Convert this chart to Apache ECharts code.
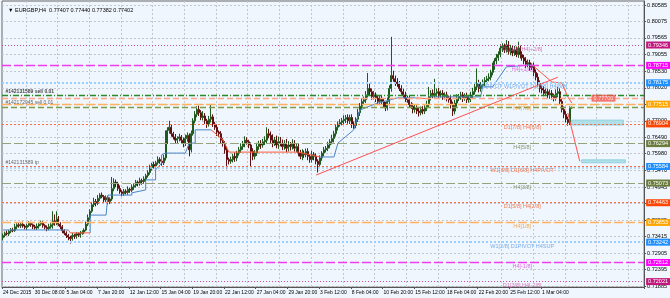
<!DOCTYPE html>
<html><head><meta charset="utf-8">
<script src="https://cdn.jsdelivr.net/npm/echarts@6/dist/echarts.min.js"></script>
<style>html,body{margin:0;padding:0;background:#f0f6fd;}#c{width:670px;height:298px;}</style>
</head><body><div id="c"></div>
<script>
// ---------- data ----------
const slotCount = 324;
const tickLabels = ['24 Dec 2015','30 Dec 08:00','5 Jan 04:00','7 Jan 20:00','12 Jan 12:00','15 Jan 04:00','19 Jan 20:00','22 Jan 12:00','27 Jan 04:00','29 Jan 20:00','3 Feb 12:00','8 Feb 04:00','10 Feb 20:00','15 Feb 12:00','18 Feb 04:00','22 Feb 20:00','25 Feb 12:00','1 Mar 04:00'];
const yTicks = [0.80585,0.80075,0.79565,0.79055,0.78530,0.78020,0.77510,0.77000,0.76490,0.75980,0.75470,0.74945,0.74435,0.73925,0.73415,0.72905,0.72395,0.71885];
// prices in pips (x 1e-4)
const opens = [
7338,7345,7352,7350,7358,7362,7360,7372,7378,7375,7380,7374,7370,7376,7382,7378,
7372,7368,7374,7380,7384,7376,7370,7366,7372,7378,7390,7385,7395,7380,7372,7360,
7352,7345,7340,7335,7345,7342,7350,7346,7352,7355,7362,7380,7400,7420,7440,7450,
7445,7460,7470,7465,7455,7462,7450,7458,7490,7510,7505,7490,7480,7475,7482,7478,
7488,7485,7495,7500,7510,7505,7515,7512,7520,7530,7540,7555,7565,7560,7570,7580,
7575,7570,7585,7640,7670,7680,7660,7650,7640,7645,7650,7640,7630,7645,7655,7610,
7660,7700,7720,7735,7725,7710,7715,7700,7690,7705,7712,7690,7680,7665,7660,7640,
7630,7610,7580,7575,7580,7590,7585,7600,7610,7620,7630,7640,7635,7625,7605,7590,
7600,7620,7630,7625,7635,7640,7660,7655,7640,7630,7640,7625,7635,7630,7620,7630,
7615,7625,7620,7630,7615,7620,7600,7590,7600,7595,7605,7590,7580,7595,7590,7575,
7565,7585,7600,7610,7615,7625,7635,7645,7660,7680,7690,7695,7700,7705,7710,7700,
7710,7690,7685,7705,7725,7745,7760,7765,7780,7800,7790,7775,7780,7770,7760,7770,
7760,7750,7740,7760,7800,7840,7830,7820,7815,7800,7790,7780,7770,7765,7750,7745,
7735,7740,7730,7725,7735,7730,7740,7750,7775,7785,7780,7785,7790,7780,7785,7775,
7780,7770,7765,7750,7730,7755,7770,7775,7780,7770,7775,7765,7770,7780,7790,7805,
7815,7800,7810,7820,7825,7830,7835,7850,7870,7885,7895,7905,7925,7930,7920,7935,
7915,7925,7910,7920,7905,7925,7905,7895,7885,7875,7880,7865,7870,7850,7835,7815,
7800,7795,7785,7790,7780,7785,7775,7770,7785,7790,7760,7735,7720,7705,7695,7740.7];
const closes = [
7345,7352,7350,7358,7362,7360,7372,7378,7375,7380,7374,7370,7376,7382,7378,7372,
7368,7374,7380,7384,7376,7370,7366,7372,7378,7390,7385,7395,7380,7372,7360,7352,
7345,7340,7335,7345,7342,7350,7346,7352,7355,7362,7380,7400,7420,7440,7450,7445,
7460,7470,7465,7455,7462,7450,7458,7490,7510,7505,7490,7480,7475,7482,7478,7488,
7485,7495,7500,7510,7505,7515,7512,7520,7530,7540,7555,7565,7560,7570,7580,7575,
7570,7585,7640,7670,7680,7660,7650,7640,7645,7650,7640,7630,7645,7655,7610,7660,
7700,7720,7735,7725,7710,7715,7700,7690,7705,7712,7690,7680,7665,7660,7640,7630,
7610,7580,7575,7580,7590,7585,7600,7610,7620,7630,7640,7635,7625,7605,7590,7600,
7620,7630,7625,7635,7640,7660,7655,7640,7630,7640,7625,7635,7630,7620,7630,7615,
7625,7620,7630,7615,7620,7600,7590,7600,7595,7605,7590,7580,7595,7590,7575,7565,
7585,7600,7610,7615,7625,7635,7645,7660,7680,7690,7695,7700,7705,7710,7700,7710,
7690,7685,7705,7725,7745,7760,7765,7780,7800,7790,7775,7780,7770,7760,7770,7760,
7750,7740,7760,7800,7840,7830,7820,7815,7800,7790,7780,7770,7765,7750,7745,7735,
7740,7730,7725,7735,7730,7740,7750,7775,7785,7780,7785,7790,7780,7785,7775,7780,
7770,7765,7750,7730,7755,7770,7775,7780,7770,7775,7765,7770,7780,7790,7805,7815,
7800,7810,7820,7825,7830,7835,7850,7870,7885,7895,7905,7925,7930,7920,7935,7915,
7925,7910,7920,7905,7925,7905,7895,7885,7875,7880,7865,7870,7850,7835,7815,7800,
7795,7785,7790,7780,7785,7775,7770,7785,7790,7760,7735,7720,7705,7695,7740.7,7740.2];
const upWick = [
6,5,8,4,6,7,9,5,6,4,8,5,6,7,5,4, 6,8,5,7,5,4,6,9,8,30,20,25,10,6,5,4,
6,5,4,8,5,6,4,7,6,5,8,10,6,9,12,8, 10,6,8,5,7,6,5,36,12,8,6,10,5,7,6,9,
5,8,6,7,5,9,6,8,6,7,9,5,8,6,10,7, 6,9,30,10,20,8,6,9,7,10,6,8,12,9,6,10,
8,10,10,12,8,15,9,6,10,37,8,6,9,5,8,6, 7,10,6,9,8,12,7,9,10,8,12,9,6,8,10,9,
12,8,10,9,12,20,15,12,18,10,14,16,15,12,10,14, 12,9,13,10,8,9,10,12,8,9,10,7,12,8,9,6,
8,6,9,7,10,8,12,9,10,8,10,9,12,8,10,9, 10,8,6,12,10,9,10,12,48,15,10,12,8,10,9,8,
10,8,12,10,120,15,10,12,8,10,9,10,8,12,8,9, 10,8,12,9,10,8,12,30,10,12,45,10,12,9,10,8,
10,8,12,9,10,12,8,10,9,10,12,8,10,12,10,47, 12,10,8,10,9,12,8,10,9,12,10,12,10,9,15,12,
10,9,12,10,20,8,10,9,12,10,9,8,10,9,12,10, 9,12,10,8,12,10,9,12,15,10,8,9,10,8,4,3.3];
const lowWick = [
8,6,5,7,6,5,4,8,6,7,5,6,8,5,6,7, 5,6,8,5,7,6,8,5,6,12,10,8,6,7,8,6,
8,10,15,6,8,7,6,8,5,6,4,6,8,5,7,10, 6,8,5,10,7,9,8,6,8,10,7,6,9,8,6,7,
8,6,9,7,8,6,10,7,8,6,7,9,8,10,6,8, 9,7,8,12,10,9,8,10,12,9,10,12,8,10,20,8,
6,8,9,10,8,9,10,12,8,10,9,8,12,10,9,10, 12,30,10,8,9,12,10,8,9,10,12,9,10,48,12,10,
9,10,12,8,10,12,9,10,12,8,10,12,9,11,10,12, 10,12,9,10,12,10,9,12,10,8,12,10,9,12,10,25,
8,9,10,8,9,10,8,12,9,10,8,9,10,12,9,10, 12,10,8,9,10,8,9,10,8,12,10,9,12,10,8,10,
9,10,8,12,10,9,12,10,8,9,10,12,9,10,8,12, 10,9,12,8,10,9,10,8,12,10,9,12,10,8,10,9,
10,9,12,15,10,12,9,10,12,8,10,9,12,10,9,10, 12,10,9,12,10,8,10,9,12,10,9,8,12,10,9,10,
12,10,9,8,10,12,9,10,12,9,10,8,12,10,9,12, 10,9,8,10,12,9,10,8,12,10,9,12,10,10,8,2.5];
// trend-stop line vertices [bar, pips]
const stBlue = [
 [[0,7362],[33,7362]],
 [[44,7353],[44,7408],[52,7408],[53,7470],[65,7470],[65,7477],[72,7486],[72,7517],[77,7517],[77,7548],[80,7569],[80,7594],[82,7600],[92,7600],[94,7631],[97,7631],[97,7672],[105,7672]],
 [[160,7588],[167,7588],[169,7631],[177,7672],[179,7712],[180,7733],[184,7743],[189,7755],[195,7764],[199,7771],[208,7771]],
 [[215,7774],[241,7774],[242,7805],[247,7805],[254,7867],[267,7873]]
];
const stRed = [
 [[33,7362],[34,7353],[44,7353]],
 [[105,7672],[111,7641],[114,7603],[149,7603],[160,7588]],
 [[208,7771],[215,7768]],
 [[267,7873],[277,7820],[282,7817],[285,7774],[287,7755]]
];
const trendLine = [[158,0.7532],[280,0.7835]];
const projLine = [[285,0.7724],[291,0.7575]];
const zones = [[287,0.7702,313,0.7687],[292,0.7579,314,0.7570]];
// level lines
const levelPrices = [0.79346,0.78715,0.78175,0.77515,0.76904,0.76294,0.75584,0.75073,0.74463,0.73853,0.73242,0.72612,0.72021];
const levelKinds  = ['vio','mag','blu','org','red','olv','red','olv','red','org','blu','mag','vio'];
const levelNames  = ['D1[1/8] H4[+2/8]','H4[+1/8]','MNPIVOT W1PIVOT D1[8/8] H4[8/8]','H4[7/8]','D1[7/8] H4[6/8]','H4[5/8]','W1[3/8] D1[6/8] H4PIVOT','H4[3/8]','D1[5/8] H4[2/8]','H4[1/8]','W1[2/8] D1PIVOT H4SUP','H4[-1/8]','D1[3/8] H4[-2/8]'];
const levelBoxes  = ['#c2187e','#ff00ff','#1e90ff','#ffa500','#ff4500','#6b7d3c','#1e90ff','#6b7d3c','#ff4500','#ffa500','#1e90ff','#ff00ff','#c2187e'];
const tradePrices = [0.7778,0.7770,0.7743];
const tradeNames = ['#142131589 sell 0.01','','#142172045 sell 0.01'];
const tpPrice = 0.75584, tpName = '#142131589 tp';
const bidPrice = 0.77402;
const title = '\u25BC EURGBP,H4  0.77407 0.77440 0.77382 0.77402';

// ---------- build ----------
const FONT = 'Liberation Sans';
const cats = [];
for (let i = 0; i < slotCount; i++) cats.push(i % 16 === 0 && i / 16 < tickLabels.length ? tickLabels[i / 16] : '');
const candles = closes.map((c, i) => {
  const o = opens[i];
  return [o / 1e4, c / 1e4, (Math.min(o, c) - lowWick[i]) / 1e4, (Math.max(o, c) + upWick[i]) / 1e4];
});
const kindStyle = {
  vio: {color: '#d04aa0', type: [1, 2], width: 1, text: '#c85aa8'},
  mag: {color: '#f03cf0', type: [9, 3], width: 1.3, text: '#d848d8'},
  blu: {color: '#9ccffa', type: [2, 2], width: 2, text: '#5a9ae6'},
  org: {color: '#ffb060', type: [9, 3], width: 1.3, text: '#e89530'},
  red: {color: '#ff6a40', type: [2, 2], width: 1, text: '#f05a2a'},
  olv: {color: '#95a27a', type: [9, 3], width: 1.2, text: '#6f7e50'}
};
const boxLabel = (txt, bg) => ({show: true, position: 'end', distance: 2, formatter: txt, backgroundColor: bg,
  color: '#fff', fontSize: 5.5, fontFamily: FONT, padding: [1, 2, 0, 2]});
const mlData = [];
mlData.push({yAxis: 0.75560, lineStyle: {color: '#9ccffa', type: [2, 2], width: 1.5}, label: {show: false}});
mlData.push({yAxis: tradePrices[0], lineStyle: {color: '#2a8a2a', type: [6, 2, 1, 2], width: 1.3}, label: {show: false}});
mlData.push({yAxis: tradePrices[1], lineStyle: {color: '#ffa585', type: [6, 3], width: 1.3}, label: {show: false}});
mlData.push({yAxis: tradePrices[2], lineStyle: {color: '#7c9c4c', type: [6, 3], width: 1.3}, label: {show: false}});
levelPrices.forEach((p, i) => {
  const k = kindStyle[levelKinds[i]];
  mlData.push({yAxis: p, lineStyle: {color: k.color, type: k.type, width: k.width, opacity: 1}, label: boxLabel(p.toFixed(5), levelBoxes[i])});
});
mlData.push({yAxis: bidPrice, lineStyle: {opacity: 0}, label: boxLabel(bidPrice.toFixed(5), '#000')});

const series = [];
series.push({type: 'line', data: [], z: 1, silent: true,
  markLine: {symbol: ['none', 'none'], silent: true, animation: false, precision: 6, data: mlData},
  markArea: {silent: true, itemStyle: {color: 'rgba(170,222,230,0.9)', borderColor: '#8fd0dc', borderWidth: 1},
    data: zones.map(z => [{coord: [z[0], z[1]]}, {coord: [z[2], z[3]]}])}
});
series.push({type: 'candlestick', data: candles, z: 3, barWidth: 1.5,
  itemStyle: {color: '#2f8f2f', color0: '#a01818', borderColor: '#1f5a1f', borderColor0: '#601010', borderWidth: 1}});
stBlue.forEach(seg => series.push({type: 'line', z: 4, symbol: 'none', silent: true,
  data: seg.map(v => [v[0], v[1] / 1e4]), lineStyle: {color: '#4a86c8', width: 1}}));
stRed.forEach(seg => series.push({type: 'line', z: 4, symbol: 'none', silent: true,
  data: seg.map(v => [v[0], v[1] / 1e4]), lineStyle: {color: '#ff5a3a', width: 1}}));
series.push({type: 'line', z: 5, symbol: 'none', silent: true, data: trendLine, lineStyle: {color: '#ff5050', width: 1}});
series.push({type: 'line', z: 5, symbol: 'none', silent: true, data: projLine, lineStyle: {color: '#ff5050', width: 1}});
series.push({type: 'scatter', z: 6, silent: true, symbolSize: 1, itemStyle: {color: 'rgba(0,0,0,0)'},
  data: levelPrices.map((p, i) => ({value: [262, p], label: {show: true, position: 'bottom', distance: 0.5,
    formatter: levelNames[i], color: kindStyle[levelKinds[i]].text, fontSize: 5.5, fontFamily: FONT}}))});
const leftLabels = [[tradePrices[0], tradeNames[0]], [tradePrices[2], tradeNames[2]], [tpPrice, tpName]];
series.push({type: 'scatter', z: 6, silent: true, symbolSize: 1, itemStyle: {color: 'rgba(0,0,0,0)'},
  data: leftLabels.map((d, i) => ({value: [1, d[0]], label: {show: true, position: 'right', distance: 0, offset: [0, -4],
    formatter: d[1], color: i === 0 ? '#111' : '#444', fontWeight: i === 0 ? 'bold' : 'normal', fontSize: 5, fontFamily: FONT}}))});
series.push({type: 'scatter', z: 6, silent: true, symbolSize: 1, itemStyle: {color: 'rgba(0,0,0,0)'},
  data: [{value: [303, tradePrices[1]], label: {show: true, position: 'inside', formatter: tradePrices[1].toFixed(5),
    backgroundColor: '#f25a50', color: '#fff', fontSize: 5.5, fontFamily: FONT, padding: [1, 2, 0, 2]}}]});

const chart = echarts.init(document.getElementById('c'), null, {renderer: 'canvas'});
chart.setOption({
  animation: false,
  backgroundColor: '#f0f6fd',
  title: {text: title, left: 3, top: 2, textStyle: {fontSize: 5.5, fontWeight: 'normal', color: '#000', fontFamily: FONT}},
  grid: {left: 1, right: 21, top: 1, bottom: 11, show: true, borderColor: '#666', borderWidth: 1, backgroundColor: '#f0f6fd'},
  xAxis: {type: 'category', data: cats, boundaryGap: true,
    axisLine: {lineStyle: {color: '#555'}},
    axisTick: {show: true, length: 2, interval: i => i % 16 === 0 && i <= 272, lineStyle: {color: '#555'}},
    axisLabel: {interval: i => i % 16 === 0 && i <= 272, align: 'left', fontSize: 5, color: '#000', margin: 3, fontFamily: FONT},
    splitLine: {show: true, interval: i => i % 16 === 12, lineStyle: {color: '#c4c8cc', type: [2, 2]}}},
  yAxis: {type: 'value', position: 'right', min: 0.71854, max: 0.807088, scale: true,
    axisLine: {show: true, lineStyle: {color: '#555'}},
    axisTick: {show: true, length: 2, customValues: yTicks, lineStyle: {color: '#555'}},
    axisLabel: {customValues: yTicks, formatter: v => v.toFixed(5), fontSize: 5.5, color: '#000', margin: 3, fontFamily: FONT},
    splitLine: {show: true, lineStyle: {color: '#c4c8cc', type: [2, 2]}}},
  series: series
});
</script></body></html>
